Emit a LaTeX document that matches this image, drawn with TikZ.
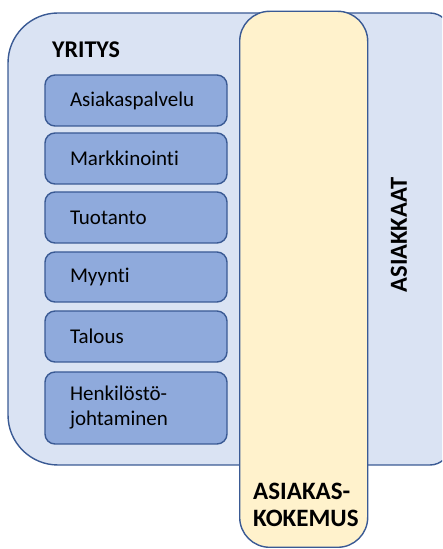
\documentclass[tikz,border=0pt]{standalone}
\usepackage{fontspec}
\setmainfont{Carlito}[Ligatures=CommonOff]
\definecolor{outerfill}{HTML}{DAE3F3}
\definecolor{linecol}{HTML}{3A5A94}
\definecolor{unitfill}{HTML}{8FAADC}
\definecolor{expfill}{HTML}{FFF2CC}
\begin{document}
\begin{tikzpicture}[x=1pt,y=1pt,
  outer/.style={fill=outerfill,draw=linecol,line width=1.4pt},
  expbox/.style={fill=expfill,draw=linecol,line width=1.4pt,rounded corners=30pt},
  unit/.style={fill=unitfill,draw=linecol,line width=1.4pt,rounded corners=10pt,
    minimum width=182pt,text width=132pt,inner xsep=25pt,inner ysep=0pt,align=left,
    font=\fontsize{21}{25}\selectfont},
  heading/.style={font=\fontsize{24}{29}\selectfont\bfseries,inner sep=0pt}]
\useasboundingbox (0,0) rectangle (442,549);
\clip (0,0) rectangle (442,549);
\path[outer] (8,134) -- (8,486) arc[start angle=180,end angle=90,radius=50]
  -- (430,536) arc[start angle=90,end angle=0,radius=20]
  -- (450,104) arc[start angle=0,end angle=-90,radius=20]
  -- (58,84) arc[start angle=270,end angle=180,radius=50] -- cycle;
\node[expbox,minimum width=128pt,minimum height=536pt,anchor=south west,inner sep=0pt] (exp) at (239,1) {};
\node[heading,anchor=base west] (yritys) at (52,491) {YRITYS};
\node[unit,minimum height=51pt] (u1) at (136,448.5) {Asiakaspalvelu};
\node[unit,minimum height=51pt] (u2) at (136,390.5) {Markkinointi};
\node[unit,minimum height=51pt] (u3) at (136,331.5) {Tuotanto};
\node[unit,minimum height=50pt] (u4) at (136,272) {Myynti};
\node[unit,minimum height=51pt] (u5) at (136,212.5) {Talous};
\node[unit,minimum height=72pt] (u6) at (136,141) {Henkilöstö-\\johtaminen};
\node[heading,font=\fontsize{25}{28}\selectfont\bfseries,align=left,anchor=base west] (kokemus) at (253,22) {ASIAKAS-\\KOKEMUS};
\node[heading,font=\fontsize{24.5}{29}\selectfont\bfseries,rotate=90] (asiakkaat) at (399,314) {ASIAKKAAT};
\end{tikzpicture}
\end{document}
